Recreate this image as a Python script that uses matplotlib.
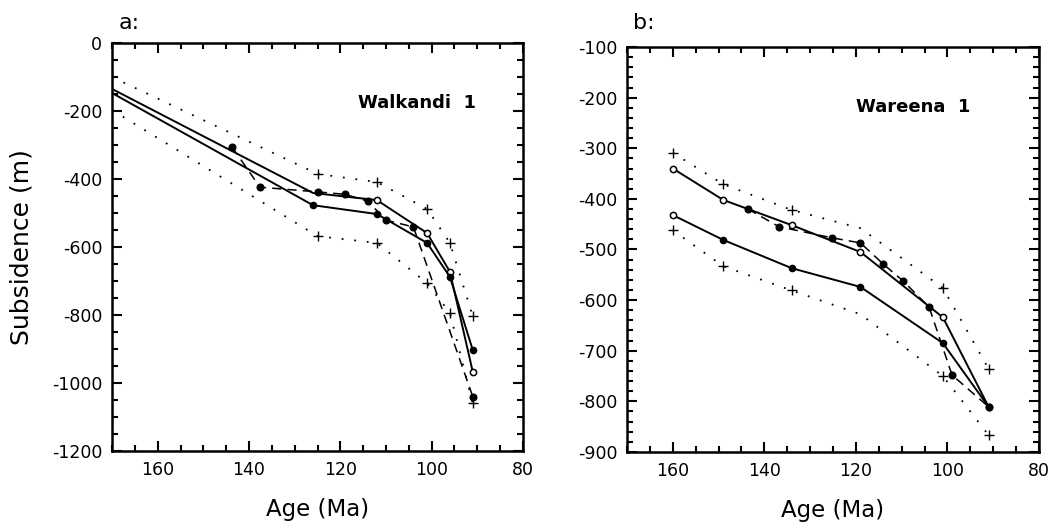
import numpy as np
import matplotlib.pyplot as plt
from matplotlib.ticker import MultipleLocator

# Walkandi 1 (panel a)
a_upper_age = [170, 126, 112, 101, 96, 91]
a_upper_sub = [-135, -441, -462, -559, -673, -967]
a_lower_age = [170, 126, 112, 101, 96, 91]
a_lower_sub = [-147, -477, -503, -588, -688, -903]
a_obs_age = [143.7, 137.6, 124.9, 119, 114, 110, 104, 91]
a_obs_sub = [-306, -424, -438, -445, -465, -521, -541, -1040]
a_max_age = [170, 125, 112, 101, 96, 91]
a_max_sub = [-100, -385, -409, -488, -588, -803]
a_min_age = [170, 125, 112, 101, 96, 91]
a_min_sub = [-197, -568, -588, -706, -794, -1060]

# Wareena 1 (panel b)
b_upper_age = [160, 149, 134, 119, 101, 91]
b_upper_sub = [-340, -402, -452, -505, -634, -811]
b_lower_age = [160, 149, 134, 119, 101, 91]
b_lower_sub = [-432, -481, -537, -574, -685, -811]
b_obs_age = [143.6, 136.8, 125.2, 119, 114, 109.7, 104, 99, 91]
b_obs_sub = [-420, -455, -477, -487, -529, -562, -614, -748, -811]
b_max_age = [160, 149, 134, 119, 101, 91]
b_max_sub = [-309, -371, -422, -458, -576, -736]
b_min_age = [160, 149, 134, 119, 101, 91]
b_min_sub = [-462, -533, -581, -628, -750, -867]

plt.rcParams['font.family'] = ['DejaVu Sans']
plt.rcParams['axes.unicode_minus'] = False

fig = plt.figure(figsize=(10.51, 5.23), dpi=100)
ax_a = fig.add_axes([0.1066, 0.1377, 0.391, 0.780])
ax_b = fig.add_axes([0.5966, 0.1358, 0.392, 0.7743])

dotted = (0, (1, 6))
dashed = (0, (6, 4))


def draw_bounds(ax, age, sub, plus_idx):
    ax.plot(age, sub, color='black', lw=1.3, ls=dotted)
    ax.plot(age, sub, ls='none', marker='+', ms=7, mew=1.0, color='black',
            markevery=plus_idx)


def style_axes(ax, ylim, ymajor, yminor):
    ax.set_xlim(170, 80)
    ax.set_ylim(*ylim)
    ax.xaxis.set_major_locator(MultipleLocator(20))
    ax.xaxis.set_minor_locator(MultipleLocator(5))
    ax.yaxis.set_major_locator(MultipleLocator(ymajor))
    ax.yaxis.set_minor_locator(MultipleLocator(yminor))
    ax.tick_params(which='both', direction='in', top=True, right=True,
                   width=1.5, labelsize=12.5)
    ax.tick_params(which='major', length=7)
    ax.tick_params(which='minor', length=4)
    ax.tick_params(axis='x', pad=7)
    ax.tick_params(axis='y', pad=7)
    for s in ax.spines.values():
        s.set_linewidth(1.8)
    ax.set_xlabel('Age (Ma)', fontsize=16.5, labelpad=14)


# panel a
draw_bounds(ax_a, a_max_age, a_max_sub, [1, 2, 3, 4, 5])
draw_bounds(ax_a, a_min_age, a_min_sub, [1, 2, 3, 4, 5])
ax_a.plot(a_obs_age, a_obs_sub, color='black', lw=1.1, ls=dashed,
          marker='o', ms=4.8, mfc='black')
ax_a.plot(a_upper_age, a_upper_sub, color='black', lw=1.4,
          marker='o', ms=4.5, mfc='white', mew=1.1, markevery=[2, 3, 4, 5])
ax_a.plot(a_lower_age, a_lower_sub, color='black', lw=1.4,
          marker='o', ms=4.5, mfc='black', markevery=[1, 2, 3, 4, 5])
style_axes(ax_a, (-1200, 0), 200, 50)
ax_a.set_ylabel('Subsidence (m)', fontsize=18, labelpad=13)
ax_a.text(0.885, 0.853, 'Walkandi  1', transform=ax_a.transAxes,
          ha='right', va='center', fontsize=13, fontweight='bold')
ax_a.text(0.015, 1.025, 'a:', transform=ax_a.transAxes, ha='left',
          va='bottom', fontsize=16)

# panel b
draw_bounds(ax_b, b_max_age, b_max_sub, [0, 1, 2, 4, 5])
draw_bounds(ax_b, b_min_age, b_min_sub, [0, 1, 2, 4, 5])
ax_b.plot(b_obs_age, b_obs_sub, color='black', lw=1.1, ls=dashed,
          marker='o', ms=4.8, mfc='black')
ax_b.plot(b_upper_age, b_upper_sub, color='black', lw=1.4,
          marker='o', ms=4.5, mfc='white', mew=1.1, markevery=[0, 1, 2, 3, 4])
ax_b.plot(b_lower_age, b_lower_sub, color='black', lw=1.4,
          marker='o', ms=4.5, mfc='black', markevery=[1, 2, 3, 4, 5])
ax_b.plot(b_lower_age, b_lower_sub, ls='none', marker='o', ms=4.5,
          mfc='white', mec='black', mew=1.1, markevery=[0])
style_axes(ax_b, (-900, -100), 100, 20)
ax_b.text(0.833, 0.852, 'Wareena  1', transform=ax_b.transAxes,
          ha='right', va='center', fontsize=13, fontweight='bold')
ax_b.text(0.015, 1.035, 'b:', transform=ax_b.transAxes, ha='left',
          va='bottom', fontsize=16)

plt.savefig('out.png', dpi=100)
